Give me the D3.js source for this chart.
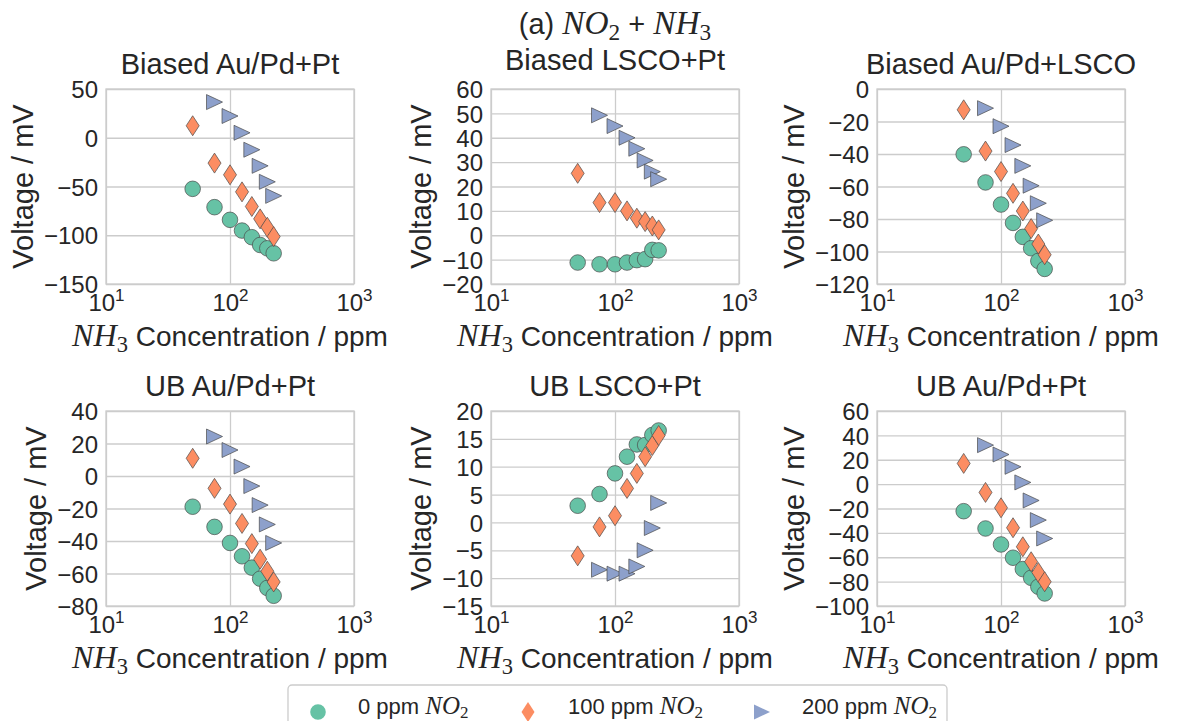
<!DOCTYPE html>
<html>
<head>
<meta charset="utf-8">
<script src="https://cdn.jsdelivr.net/npm/d3@7"></script>
<style>
	body { margin: 0; background: #fff; }
	svg { display: block; font-family: "Liberation Sans", Arial, sans-serif; }
</style>
</head>
<body>
<div id="chart"></div>
<script>
// NH3 concentrations (ppm)
const nh3Full = [50, 75, 100, 125, 150, 175, 200, 225];
const nh3Tri = [75, 100, 125, 150, 175, 200, 225];

const panelTitles = ['Biased Au/Pd+Pt', 'Biased LSCO+Pt', 'Biased Au/Pd+LSCO',
	'UB Au/Pd+Pt', 'UB LSCO+Pt', 'UB Au/Pd+Pt'];

// y tick labels for each panel
const yTicks1 = [-150, -100, -50, 0, 50];
const yTicks2 = [-20, -10, 0, 10, 20, 30, 40, 50, 60];
const yTicks3 = [-120, -100, -80, -60, -40, -20, 0];
const yTicks4 = [-80, -60, -40, -20, 0, 20, 40];
const yTicks5 = [-15, -10, -5, 0, 5, 10, 15, 20];
const yTicks6 = [-100, -80, -60, -40, -20, 0, 20, 40, 60];
const xTicks = [10, 100, 1000];

// voltage (mV) per panel: 0, 100, 200 ppm NO2
const p1_0 = [-52.4, -71.2, -84.2, -95.2, -102, -110, -113.4, -118.5];
const p1_100 = [12.3, -26, -38, -55.5, -70.5, -83.2, -91.8, -101.4];
const p1_200 = [36.6, 22.3, 5.1, -12.3, -28.8, -45.2, -59.6];

const p2_0 = [-11.2, -11.9, -11.9, -11.2, -10.2, -9.8, -6.0, -6.2];
const p2_100 = [25.4, 13.4, 13.4, 10.0, 7.0, 5.6, 3.8, 2.2];
const p2_200 = [49.2, 44.8, 40.0, 35.5, 30.7, 26.1, 23.0];

const p3_0 = [-40.2, -57.5, -71.1, -82.4, -91, -98, -105.8, -110.7];
const p3_100 = [-12.8, -38.2, -50.8, -64.2, -75.1, -85.9, -95.4, -102];
const p3_200 = [-11.8, -22.9, -34.5, -47.3, -59.5, -70.3, -80.8];

const p4_0 = [-18.9, -31.3, -41.2, -49.4, -56.4, -63.2, -68.9, -73.7];
const p4_100 = [10.9, -7.6, -17.3, -29.2, -41.6, -51.2, -58.6, -65.2];
const p4_200 = [24.3, 16, 5.8, -6.2, -17.9, -29.8, -41.2];

const p5_0 = [3.0, 5.1, 8.8, 11.8, 14.0, 13.9, 15.7, 16.5];
const p5_100 = [-6.0, -0.8, 1.2, 6.1, 8.8, 11.8, 13.8, 15.6];
const p5_200 = [-8.5, -9.2, -9.2, -7.9, -5.0, -1.0, 3.5];

const p6_0 = [-22.2, -36.4, -49.5, -60.4, -69.7, -76.9, -84.2, -89.7];
const p6_100 = [17, -6.8, -19.4, -35.8, -51.4, -63.7, -72.5, -80.1];
const p6_200 = [32, 24.3, 14.2, 1.4, -13.4, -29.5, -44.6];

const legendNO2 = ['0', '100', '200'];

const panels = [
	{ticks: yTicks1, series: [p1_0, p1_100, p1_200]},
	{ticks: yTicks2, series: [p2_0, p2_100, p2_200]},
	{ticks: yTicks3, series: [p3_0, p3_100, p3_200]},
	{ticks: yTicks4, series: [p4_0, p4_100, p4_200]},
	{ticks: yTicks5, series: [p5_0, p5_100, p5_200]},
	{ticks: yTicks6, series: [p6_0, p6_100, p6_200]}
];

const width = 1177, height = 721;
const colLeft = [106, 491, 877], rowTop = [89, 411];
const pw = 248, ph = 195;
const colors = ['#66c2a5', '#fc8d62', '#8da0cb'];
const edge = '#4a4a4a';
const gridColor = '#cccccc';
const serif = '"Liberation Serif", "DejaVu Serif", serif';

// marker shapes centred on 0,0
const shapes = [
	'M7.8,0A7.8,7.8 0 1,1 -7.8,0A7.8,7.8 0 1,1 7.8,0Z',
	'M0,-10L6.5,0L0,10L-6.5,0Z',
	'M8,0L-8,-7.5L-8,7.5Z'
];

const svg = d3.select('#chart').append('svg')
	.attr('width', width)
	.attr('height', height);

// italic math chunk with a subscript, e.g. NH_3
function addMath(textSel, base, sub, size) {
	const ms = size * 1.15;
	textSel.append('tspan').attr('font-family', serif).attr('font-style', 'italic')
		.attr('font-size', ms).text(base);
	textSel.append('tspan').attr('font-family', serif)
		.attr('font-size', ms * 0.7).attr('dy', size * 0.22).text(sub);
	return size * 0.22;
}

panels.forEach((p, i) => {
	const left = colLeft[i % 3], top = rowTop[Math.floor(i / 3)];
	const g = svg.append('g').attr('transform', `translate(${left},${top})`);

	const x = d3.scaleLog().domain([10, 1000]).range([0, pw]);
	const y = d3.scaleLinear().domain(d3.extent(p.ticks)).range([ph, 0]);

	// grid
	g.append('g').call(d3.axisLeft(y).tickValues(p.ticks).tickSize(-pw).tickFormat(''))
		.call(a => a.select('.domain').remove())
		.selectAll('line').attr('stroke', gridColor).attr('stroke-width', 1.3);
	g.append('g').attr('transform', `translate(0,${ph})`)
		.call(d3.axisBottom(x).tickValues(xTicks).tickSize(-ph).tickFormat(''))
		.call(a => a.select('.domain').remove())
		.selectAll('line').attr('stroke', gridColor).attr('stroke-width', 1.3);
	g.append('rect').attr('width', pw).attr('height', ph)
		.attr('fill', 'none').attr('stroke', gridColor).attr('stroke-width', 1.3);

	// y tick labels
	const yAxisG = g.append('g')
		.call(d3.axisLeft(y).tickValues(p.ticks).tickSize(0).tickPadding(8).tickFormat(d3.format('d')));
	yAxisG.select('.domain').remove();
	yAxisG.attr('font-family', null).attr('font-size', null);
	yAxisG.selectAll('text').attr('font-size', 24).attr('fill', '#262626').attr('dy', '0.36em');

	// x tick labels as 10^n
	const xAxisG = g.append('g').attr('transform', `translate(0,${ph})`)
		.call(d3.axisBottom(x).tickValues(xTicks).tickSize(0).tickFormat(''));
	xAxisG.select('.domain').remove();
	xAxisG.attr('font-family', null);
	xAxisG.selectAll('.tick').each(function(d) {
		const t = d3.select(this).select('text')
			.attr('y', 27).attr('dy', null).attr('font-size', 24).attr('fill', '#262626');
		t.append('tspan').text('10');
		t.append('tspan').attr('font-size', 17).attr('dy', -10).text(Math.round(Math.log10(d)));
	});

	// markers
	const xsets = [nh3Full, nh3Full, nh3Tri];
	p.series.forEach((vals, s) => {
		g.append('g').selectAll('path')
			.data(vals.map((v, k) => [xsets[s][k], v]))
			.join('path')
			.attr('d', shapes[s])
			.attr('transform', d => `translate(${x(d[0])},${y(d[1])})`)
			.attr('fill', colors[s])
			.attr('stroke', edge)
			.attr('stroke-width', 0.7);
	});

	// title
	g.append('text').attr('x', pw / 2).attr('y', i === 1 ? -19 : -15)
		.attr('text-anchor', 'middle').attr('font-size', 29).attr('fill', '#262626')
		.text(panelTitles[i]);

	// x label
	const xl = g.append('text').attr('x', pw / 2).attr('y', ph + 62)
		.attr('text-anchor', 'middle').attr('font-size', 28).attr('fill', '#262626');
	const sh = addMath(xl, 'NH', '3', 28);
	xl.append('tspan').attr('dy', -sh).text(' Concentration / ppm');

	// y label, left of the tick labels
	const bb = yAxisG.node().getBBox();
	g.append('text')
		.attr('transform', `translate(${bb.x - 11},${ph / 2}) rotate(-90)`)
		.attr('text-anchor', 'middle').attr('font-size', 29).attr('fill', '#262626')
		.text('Voltage / mV');
});

// super title over the middle column
const sup = svg.append('text')
	.attr('x', colLeft[1] + pw / 2).attr('y', 34)
	.attr('text-anchor', 'middle').attr('font-size', 29).attr('fill', '#262626');
sup.append('tspan').text('(a) ');
const s1 = addMath(sup, 'NO', '2', 29);
sup.append('tspan').attr('dy', -s1).text(' + ');
addMath(sup, 'NH', '3', 29);

// legend
const lg = svg.append('g');
lg.append('rect').attr('x', 288).attr('y', 685).attr('width', 659).attr('height', 60)
	.attr('rx', 4).attr('fill', '#fff').attr('stroke', gridColor).attr('stroke-width', 1.3);
const legX = [318, 528, 762];
legendNO2.forEach((n, s) => {
	lg.append('path').attr('d', shapes[s])
		.attr('transform', `translate(${legX[s]},712)`)
		.attr('fill', colors[s]).attr('stroke', 'none');
	const t = lg.append('text').attr('x', legX[s] + 40).attr('y', 714)
		.attr('font-size', 22).attr('fill', '#262626');
	t.append('tspan').text(n + ' ppm ');
	t.append('tspan').attr('font-family', serif).attr('font-style', 'italic')
		.attr('font-size', 25).text('NO');
	t.append('tspan').attr('font-family', serif).attr('font-size', 17).attr('dy', 4).text('2');
});
</script>
</body>
</html>
